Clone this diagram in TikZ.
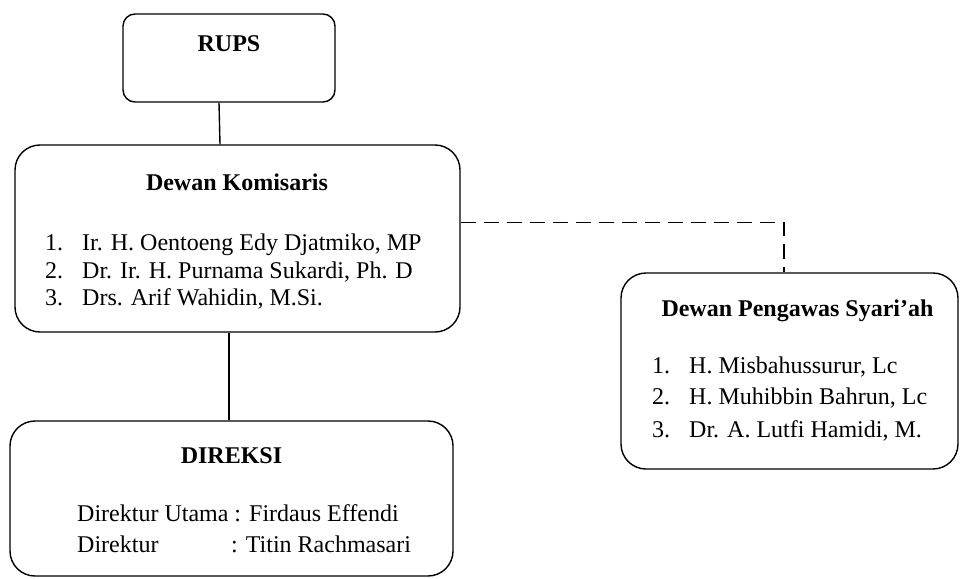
\documentclass[tikz,border=0pt]{standalone}
\usepackage{fontspec}
\setmainfont{Liberation Serif}
\begin{document}
\begin{tikzpicture}[x=1pt,y=-1pt,
  box/.style={draw=black, line width=1.4pt, rectangle, inner sep=0pt},
  title/.style={font=\fontsize{24}{28}\selectfont\bfseries, anchor=base, inner sep=0pt},
  item/.style={font=\fontsize{24}{28}\selectfont, anchor=base west, inner sep=0pt},
  link/.style={line width=1.4pt},
  dashlink/.style={line width=1.4pt, dash pattern=on 15pt off 8pt}]
\useasboundingbox (0,0) rectangle (960,578);

% boxes
\node[box, rounded corners=12pt, minimum width=212pt, minimum height=88pt] (rups) at (229,58) {};
\node[box, rounded corners=25pt, minimum width=445pt, minimum height=187pt] (kom) at (237.5,238.5) {};
\node[box, rounded corners=25pt, minimum width=337pt, minimum height=196pt] (dps) at (789.5,371) {};
\node[box, rounded corners=25pt, minimum width=443pt, minimum height=155pt] (dir) at (231.5,498.5) {};

% RUPS
\node[title] (rupsT) at (229,52) {RUPS};

% Dewan Komisaris
\node[title] (komT) at (237,190) {Dewan Komisaris};
\node[item] (komN1) at (45,250) {1.};
\node[item] (komI1) at (82,250) {Ir. H. Oentoeng Edy Djatmiko, MP};
\node[item] (komN2) at (45,278) {2.};
\node[item] (komI2) at (82,278) {Dr. Ir. H. Purnama Sukardi, Ph. D};
\node[item] (komN3) at (45,305) {3.};
\node[item] (komI3) at (82,305) {Drs. Arif Wahidin, M.Si.};

% Dewan Pengawas Syari'ah
\node[title] (dpsT) at (797.5,316) {Dewan Pengawas Syari’ah};
\node[item] (dpsN1) at (652,373) {1.};
\node[item] (dpsI1) at (689,373) {H. Misbahussurur, Lc};
\node[item] (dpsN2) at (652,404) {2.};
\node[item] (dpsI2) at (689,404) {H. Muhibbin Bahrun, Lc};
\node[item] (dpsN3) at (652,437) {3.};
\node[item] (dpsI3) at (689,437) {Dr. A. Lutfi Hamidi, M.};

% Direksi
\node[title] (dirT) at (231.5,463) {DIREKSI};
\node[item] (dirI1) at (77,521) {Direktur Utama : Firdaus Effendi};
\node[item] (dirL2) at (77,552) {Direktur};
\node[item] (dirI2) at (231,552) {: Titin Rachmasari};

% connectors
\draw[link] ([xshift=-10pt]rups.south) -- ([xshift=-17.5pt]kom.north);
\draw[link] ([xshift=-8.5pt]kom.south) -- ([xshift=-2.5pt]dir.north);
\draw[dashlink] ([yshift=16pt]kom.east) -| ([xshift=-5.5pt]dps.north);
\end{tikzpicture}
\end{document}
